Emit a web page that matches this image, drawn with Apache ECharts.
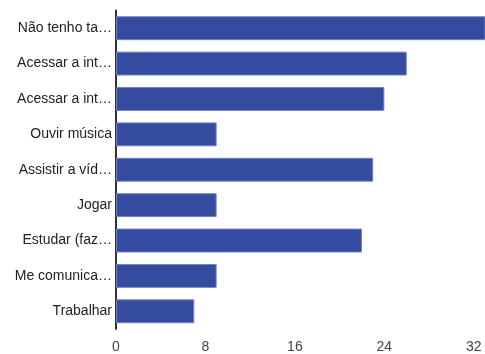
<!DOCTYPE html>
<html>
<head>
<meta charset="utf-8">
<script src="https://cdn.jsdelivr.net/npm/echarts@6/dist/echarts.min.js"></script>
<style>
html,body{margin:0;padding:0;background:#fff;}
#chart{width:485px;height:354px;}
</style>
</head>
<body>
<div id="chart"></div>
<script>
const categories = ["Não tenho ta…", "Acessar a int…", "Acessar a int…", "Ouvir música", "Assistir a víd…", "Jogar", "Estudar (faz…", "Me comunica…", "Trabalhar"];
const values = [34, 26, 24, 9, 23, 9, 22, 9, 7];
const tickValues = [0, 8, 16, 24, 32];

const chart = echarts.init(document.getElementById('chart'), null, {renderer: 'canvas'});
chart.setOption({
  animation: false,
  backgroundColor: '#ffffff',
  grid: {left: 116, top: 10.5, height: 320, right: 0, containLabel: false},
  xAxis: {
    type: 'value', min: 0, max: 33, interval: 8,
    axisLine: {show: false}, axisTick: {show: false}, splitLine: {show: false},
    axisLabel: {color: '#444', fontFamily: 'Liberation Sans, Arial, sans-serif', fontSize: 14, margin: 11,
      showMaxLabel: false,
      formatter: v => tickValues.includes(v) ? String(v) : ''}
  },
  yAxis: {
    type: 'category', inverse: true, data: categories,
    axisLine: {show: true, lineStyle: {color: '#333', width: 2}},
    axisTick: {show: false}, splitLine: {show: false},
    axisLabel: {color: '#222', fontFamily: 'Liberation Sans, Arial, sans-serif', fontSize: 14, margin: 4}
  },
  series: [{
    type: 'bar', data: values, barCategoryGap: '32.5%',
    itemStyle: {color: '#344b9f', borderColor: '#7083c4', borderWidth: 1},
    clip: true
  }]
});
</script>
</body>
</html>
